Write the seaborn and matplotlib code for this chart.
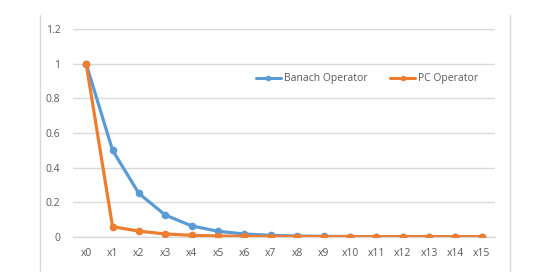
import matplotlib
matplotlib.use("Agg")
import matplotlib.pyplot as plt
import seaborn as sns
import pandas as pd
from matplotlib.lines import Line2D

categories = ["x0", "x1", "x2", "x3", "x4", "x5", "x6", "x7", "x8", "x9",
              "x10", "x11", "x12", "x13", "x14", "x15"]
banach = [1, 0.5, 0.25, 0.125, 0.0625, 0.03125, 0.015625, 0.0078125, 0.0039,
          0.00195, 0.00098, 0.00049, 0.00024, 0.00012, 0.00006, 0.00003]
pc = [1, 0.058, 0.032, 0.016, 0.008, 0.004, 0.002, 0.001, 0.0005, 0.00025,
      0.00012, 0.00006, 0.00003, 0.000015, 0.000008, 0.000004]
series_names = ["Banach Operator", "PC Operator"]
yticks = [0, 0.2, 0.4, 0.6, 0.8, 1, 1.2]
ytick_labels = ["0", "0.2", "0.4", "0.6", "0.8", "1", "1.2"]

df = pd.DataFrame({
    "x": categories * 2,
    "pos": list(range(len(categories))) * 2,
    "value": banach + pc,
    "series": [series_names[0]] * len(categories) + [series_names[1]] * len(categories),
})

sns.set_style("white")
plt.rcParams["font.family"] = ["Open Sans", "DejaVu Sans"]

W, H = 542, 276
fig = plt.figure(figsize=(W / 100, H / 100), dpi=100)
ax = fig.add_axes([73 / W, 1 - 236.7 / H, (495 - 73) / W, (236.7 - 29.3) / H])

colors = {"Banach Operator": "#5B9BD5", "PC Operator": "#ED7D31"}
sns.lineplot(data=df, x="pos", y="value", hue="series", palette=colors,
             marker="o", markersize=5.5, markeredgewidth=0, linewidth=2.3,
             ax=ax, legend=False, zorder=3)

ax.set_xlim(-0.5, len(categories) - 0.5)
ax.set_ylim(0, 1.2)
ax.set_yticks(yticks)
ax.set_yticklabels(ytick_labels)
ax.set_xticks(range(len(categories)))
ax.set_xticklabels(categories)
ax.set_xlabel("")
ax.set_ylabel("")
for s in ["top", "right", "left"]:
    ax.spines[s].set_visible(False)
ax.spines["bottom"].set_color("#D9D9D9")
ax.spines["bottom"].set_linewidth(1)
ax.yaxis.grid(True, color="#D9D9D9", linewidth=1)
ax.set_axisbelow(True)
ax.tick_params(axis="both", colors="#595959", labelsize=7.5, length=0, pad=9)
ax.tick_params(axis="x", pad=8)
ax.set_xticks([i - 0.5 for i in range(len(categories) + 1)], minor=True)
ax.tick_params(axis="x", which="minor", length=4, color="#D9D9D9", width=1)

handles = [Line2D([0], [0], color=colors[n], marker="o", markersize=4,
                  markeredgewidth=0, linewidth=2.2) for n in series_names]
leg = ax.legend(handles, series_names, loc="center", bbox_to_anchor=(367 / W, 1 - 79 / H),
                bbox_transform=fig.transFigure, ncol=2, frameon=False, fontsize=7.5,
                handlelength=2.4, handletextpad=0.3, columnspacing=2.2)
for t in leg.get_texts():
    t.set_color("#595959")

fig.add_artist(Line2D([39.5 / W, 39.5 / W], [1 - 15 / H, 1 - 271 / H],
                      transform=fig.transFigure, color="#D9D9D9", linewidth=1))
fig.add_artist(Line2D([509.5 / W, 509.5 / W], [1 - 15 / H, 1 - 271 / H],
                      transform=fig.transFigure, color="#D9D9D9", linewidth=1))

fig.savefig("out.png", dpi=100)
